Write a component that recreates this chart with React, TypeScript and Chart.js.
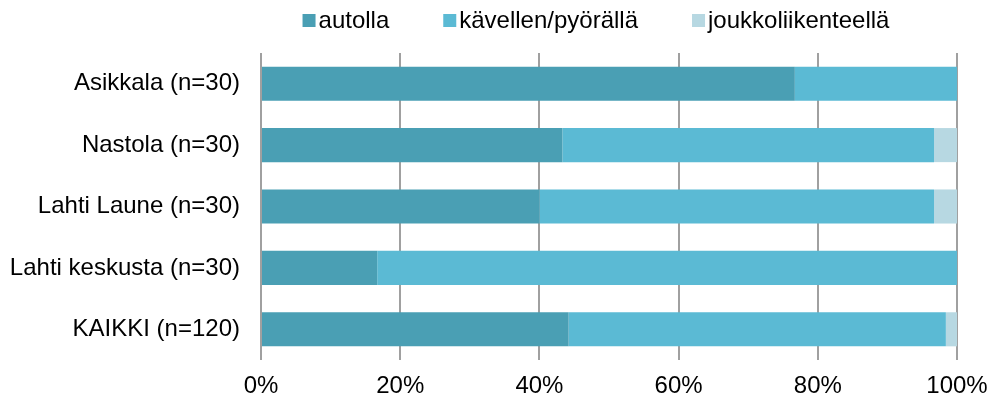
import React, { useEffect, useRef } from "react";
import { Chart, registerables } from "chart.js";

Chart.register(...registerables);

const categories = [
  "Asikkala (n=30)",
  "Nastola (n=30)",
  "Lahti Laune (n=30)",
  "Lahti keskusta (n=30)",
  "KAIKKI (n=120)",
];
const autolla = [76.7, 43.3, 40.0, 16.7, 44.2];
const kavellen = [23.3, 53.4, 56.7, 83.3, 54.2];
const joukko = [0, 3.3, 3.3, 0, 1.6];
const seriesNames = ["autolla", "kävellen/pyörällä", "joukkoliikenteellä"];
const seriesColors = ["#4A9FB4", "#5BBAD4", "#B7D8E2"];
const xTicks = [0, 20, 40, 60, 80, 100];

const FONT = "Liberation Sans, Arial, sans-serif";

const legendPlugin = {
  id: "customLegend",
  afterDraw(chart: any) {
    const ctx = chart.ctx;
    ctx.save();
    ctx.font = `24px ${FONT}`;
    const box = 13;
    const gapBox = 3;
    const gapItem = 54;
    const items = chart.data.datasets.map((d: any) => ({
      label: d.label,
      color: d.backgroundColor,
      w: ctx.measureText(d.label).width,
    }));
    const total =
      items.reduce((s: number, it: any) => s + box + gapBox + it.w, 0) +
      gapItem * (items.length - 1);
    let x = 596 - total / 2;
    const cy = 20.5;
    for (const it of items) {
      ctx.fillStyle = it.color;
      ctx.fillRect(x, cy - box / 2, box, box);
      ctx.fillStyle = "#000";
      ctx.textBaseline = "middle";
      ctx.textAlign = "left";
      ctx.fillText(it.label, x + box + gapBox, cy + 1);
      x += box + gapBox + it.w + gapItem;
    }
    ctx.restore();
  },
};

export default function App() {
  const ref = useRef<HTMLCanvasElement>(null);
  useEffect(() => {
    if (!ref.current) return;
    const data = [autolla, kavellen, joukko];
    const chart = new Chart(ref.current, {
      type: "bar",
      data: {
        labels: categories,
        datasets: data.map((vals, i) => ({
          label: seriesNames[i],
          data: vals,
          backgroundColor: seriesColors[i],
          borderWidth: 0,
          barPercentage: 0.555,
          categoryPercentage: 1,
        })),
      },
      options: {
        indexAxis: "y",
        animation: false,
        responsive: false,
        maintainAspectRatio: false,
        layout: { padding: { top: 53, right: 31, bottom: 0, left: 0 } },
        plugins: {
          legend: { display: false },
          tooltip: { enabled: false },
        },
        scales: {
          x: {
            stacked: true,
            min: 0,
            max: 100,
            afterBuildTicks(scale: any) {
              scale.ticks = xTicks.map((v) => ({ value: v }));
            },
            afterFit(scale: any) {
              scale.height = 42;
              scale.paddingLeft = 0;
              scale.paddingRight = 0;
            },
            grid: {
              color: "#A0A0A0",
              lineWidth: 2,
              drawTicks: false,
            },
            border: { display: false },
            ticks: {
              padding: 12,
              color: "#000",
              font: { family: FONT, size: 24 },
              callback: (v: any) => `${v}%`,
            },
          },
          y: {
            stacked: true,
            afterFit(scale: any) {
              scale.width = 261;
              scale.paddingTop = 0;
              scale.paddingBottom = 0;
            },
            grid: { display: false, drawTicks: false },
            border: { display: false },
            ticks: {
              padding: 21,
              color: "#000",
              font: { family: FONT, size: 24 },
            },
          },
        },
      },
      plugins: [legendPlugin],
    } as any);
    return () => chart.destroy();
  }, []);
  return (
    <div style={{ position: "fixed", left: 0, top: 0, width: 988, height: 402, background: "#fff" }}>
      <canvas ref={ref} width={988} height={402} style={{ width: 988, height: 402 }} />
    </div>
  );
}
